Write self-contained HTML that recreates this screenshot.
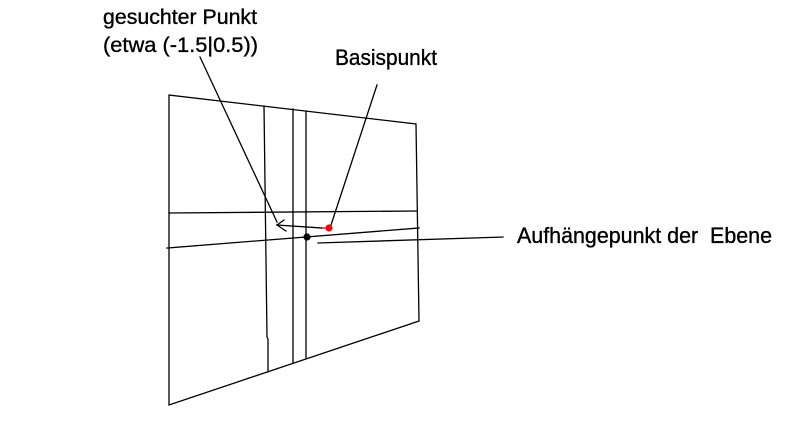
<!DOCTYPE html>
<html>
<head>
<meta charset="utf-8">
<style>
html,body{margin:0;padding:0;background:#fff;}
svg{display:block;}
text{font-family:"Liberation Sans",sans-serif;fill:#000;stroke:#000;stroke-width:0.35;}
</style>
</head>
<body>
<svg width="807" height="424" viewBox="0 0 807 424" xmlns="http://www.w3.org/2000/svg">
<rect width="807" height="424" fill="#fff"/>
<g stroke="#000" stroke-width="1.3" fill="none" stroke-linecap="square">
  <!-- plane outline -->
  <polyline points="169,95 416,124 419,321 169,405 169,95"/>
  <!-- vertical lines -->
  <polyline points="264,106 267,337 268,339 268,372"/>
  <line x1="293" y1="109" x2="293" y2="363"/>
  <line x1="306" y1="111" x2="306" y2="358"/>
  <!-- horizontal lines -->
  <line x1="169" y1="213" x2="417" y2="211"/>
  <line x1="167" y1="248" x2="419" y2="228"/>
  <!-- pointer lines -->
  <line x1="200" y1="57" x2="277" y2="222"/>
  <line x1="377" y1="85" x2="331" y2="225"/>
  <line x1="318" y1="243" x2="503" y2="237"/>
  <!-- arrow -->
  <line x1="277" y1="225" x2="322" y2="228"/>
  <line x1="277" y1="225" x2="284" y2="220"/>
  <line x1="277" y1="225" x2="286" y2="231"/>
</g>
<line x1="322" y1="228" x2="329" y2="228" stroke="#e00" stroke-width="1.3"/>
<circle cx="329" cy="228" r="3.6" fill="#e01010"/>
<circle cx="307" cy="237" r="3.6" fill="#000"/>
<text x="103" y="24" font-size="21" textLength="154" lengthAdjust="spacingAndGlyphs">gesuchter Punkt</text>
<text x="103" y="52" font-size="21" textLength="155" lengthAdjust="spacingAndGlyphs">(etwa (-1.5|0.5))</text>
<text x="335" y="65" font-size="22" textLength="102" lengthAdjust="spacingAndGlyphs">Basispunkt</text>
<text x="517" y="243" font-size="22" textLength="255" lengthAdjust="spacingAndGlyphs">Aufhängepunkt der&#160; Ebene</text>
</svg>
</body>
</html>
